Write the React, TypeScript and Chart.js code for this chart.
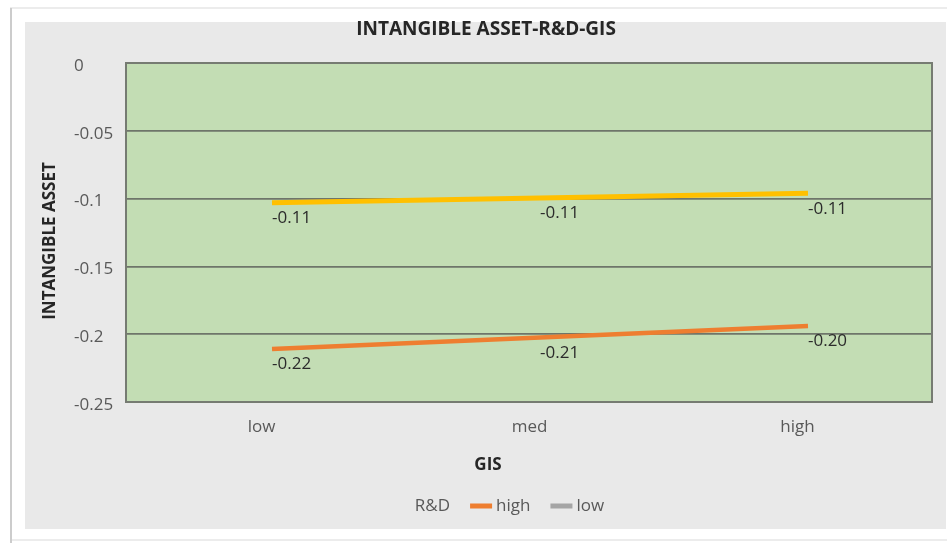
import React, { useEffect, useRef } from 'react';
import { Chart, registerables } from 'chart.js';

Chart.register(...registerables);

// ---- data ----
const categories = ['low', 'med', 'high'];
const seriesNames = ['high', 'low'];
const rdHighValues = [-0.211, -0.2025, -0.194];
const rdLowValues = [-0.103, -0.0995, -0.096];
const rdHighLabels = ['-0.22', '-0.21', '-0.20'];
const rdLowLabels = ['-0.11', '-0.11', '-0.11'];
const yTickValues = [-0.25, -0.2, -0.15, -0.1, -0.05, 0];
const yTickLabels = ['-0.25', '-0.2', '-0.15', '-0.1', '-0.05', '0'];
const chartTitle = 'INTANGIBLE ASSET-R&D-GIS';
const xAxisTitle = 'GIS';
const yAxisTitle = 'INTANGIBLE ASSET';
const legendTitle = 'R&D';

// ---- styles ----
const lineColors = ['#EE7E30', '#FFC000'];
const legendColors = ['#EE7E30', '#A5A5A5'];
const lineWidths = [4.5, 5];
const FONT = "'Open Sans', 'DejaVu Sans', sans-serif";

const decor = {
  id: 'decor',
  beforeDraw(chart: any) {
    const { ctx, chartArea: a, width, height } = chart;
    ctx.save();
    ctx.fillStyle = '#FFFFFF';
    ctx.fillRect(0, 0, width, height);
    ctx.lineWidth = 2;
    ctx.strokeStyle = '#ECECEC';
    ctx.beginPath();
    ctx.moveTo(10, 8);
    ctx.lineTo(width, 8);
    ctx.stroke();
    ctx.beginPath();
    ctx.moveTo(10, 540);
    ctx.lineTo(width, 540);
    ctx.stroke();
    ctx.strokeStyle = '#CCCCCC';
    ctx.beginPath();
    ctx.moveTo(11, 8);
    ctx.lineTo(11, height);
    ctx.stroke();
    ctx.fillStyle = '#E9E9E9';
    ctx.fillRect(25, 22, 921, 507);
    ctx.fillStyle = '#C3DDB4';
    ctx.fillRect(a.left, a.top, a.right - a.left, a.bottom - a.top);
    ctx.restore();
  },
  beforeDatasetsDraw(chart: any) {
    const { ctx, chartArea: a } = chart;
    ctx.save();
    ctx.strokeStyle = '#767B72';
    ctx.lineWidth = 2;
    ctx.strokeRect(a.left, a.top, a.right - a.left, a.bottom - a.top);
    ctx.restore();
  },
  afterDatasetsDraw(chart: any) {
    const { ctx } = chart;
    const labelSets = [rdHighLabels, rdLowLabels];
    ctx.save();
    ctx.font = `17px ${FONT}`;
    ctx.fillStyle = '#2B2B2B';
    ctx.textAlign = 'left';
    ctx.textBaseline = 'middle';
    chart.data.datasets.forEach((ds: any, di: number) => {
      const meta = chart.getDatasetMeta(di);
      meta.data.forEach((pt: any, i: number) => {
        ctx.fillText(labelSets[di][i], pt.x, pt.y + 15.5);
      });
    });
    ctx.restore();
  },
  afterDraw(chart: any) {
    const { ctx } = chart;
    ctx.save();
    // title
    ctx.fillStyle = '#262626';
    ctx.font = `bold 19px ${FONT}`;
    ctx.textAlign = 'center';
    ctx.textBaseline = 'middle';
    ctx.fillText(chartTitle, 486, 30);
    // x axis title
    ctx.font = `bold 17px ${FONT}`;
    ctx.fillText(xAxisTitle, 488, 465);
    // y axis title
    ctx.save();
    ctx.translate(50, 241);
    ctx.rotate(-Math.PI / 2);
    ctx.fillText(yAxisTitle, 0, 0);
    ctx.restore();
    // legend
    ctx.font = `17px ${FONT}`;
    ctx.fillStyle = '#595959';
    ctx.textAlign = 'left';
    const sw = 22;
    const gapSw = 4;
    const gapItem = 20;
    const titleW = ctx.measureText(legendTitle).width;
    const itemW = seriesNames.map((n) => ctx.measureText(n).width);
    let total = titleW;
    itemW.forEach((w) => (total += gapItem + sw + gapSw + w));
    let x = 509.5 - total / 2;
    const y = 506.5;
    ctx.fillText(legendTitle, x, y);
    x += titleW;
    seriesNames.forEach((n, i) => {
      x += gapItem;
      ctx.fillStyle = legendColors[i];
      ctx.fillRect(x, y - 3, sw, 5);
      x += sw + gapSw;
      ctx.fillStyle = '#595959';
      ctx.fillText(n, x, y);
      x += itemW[i];
    });
    ctx.restore();
  },
};

export default function App() {
  const canvasRef = useRef<HTMLCanvasElement | null>(null);

  useEffect(() => {
    if (!canvasRef.current) return;
    Chart.defaults.font.family = FONT;
    const chart = new Chart(canvasRef.current, {
      type: 'line',
      data: {
        datasets: [
          {
            label: seriesNames[0],
            data: rdHighValues.map((v, i) => ({ x: i, y: v })),
            borderColor: lineColors[0],
            backgroundColor: lineColors[0],
            borderWidth: lineWidths[0],
            pointRadius: 0,
            tension: 0,
          },
          {
            label: seriesNames[1],
            data: rdLowValues.map((v, i) => ({ x: i, y: v })),
            borderColor: lineColors[1],
            backgroundColor: lineColors[1],
            borderWidth: lineWidths[1],
            pointRadius: 0,
            tension: 0,
          },
        ],
      },
      options: {
        responsive: false,
        animation: false,
        devicePixelRatio: 1,
        layout: { padding: { left: 74, top: 63, right: 15, bottom: 101 } },
        plugins: {
          legend: { display: false },
          title: { display: false },
          tooltip: { enabled: false },
        },
        scales: {
          x: {
            type: 'linear',
            min: -0.5448,
            max: 2.4627,
            afterBuildTicks: (scale: any) => {
              scale.ticks = categories.map((_, i) => ({ value: i }));
            },
            afterFit: (scale: any) => {
              scale.height = 40;
            },
            grid: { display: false, drawTicks: false },
            border: { display: false },
            ticks: {
              autoSkip: false,
              maxRotation: 0,
              padding: 15,
              labelOffset: -10.5,
              color: '#595959',
              font: { size: 17, family: FONT },
              callback: (v: any) => categories[Math.round(Number(v))],
            },
          },
          y: {
            type: 'linear',
            min: -0.25,
            max: 0,
            afterBuildTicks: (scale: any) => {
              scale.ticks = yTickValues.map((v) => ({ value: v }));
            },
            afterFit: (scale: any) => {
              scale.width = 52;
            },
            grid: { color: '#6E756A', lineWidth: 1.8, drawTicks: false },
            border: { display: false },
            ticks: {
              crossAlign: 'far',
              padding: 0,
              labelOffset: 3,
              color: '#595959',
              font: { size: 17, family: FONT },
              callback: (_v: any, index: number) => yTickLabels[index],
            },
          },
        },
      },
      plugins: [decor],
    } as any);
    return () => chart.destroy();
  }, []);

  return (
    <div style={{ position: 'fixed', left: 0, top: 0, width: 947, height: 543, background: '#fff' }}>
      <canvas ref={canvasRef} width={947} height={543} style={{ display: 'block' }} />
    </div>
  );
}
